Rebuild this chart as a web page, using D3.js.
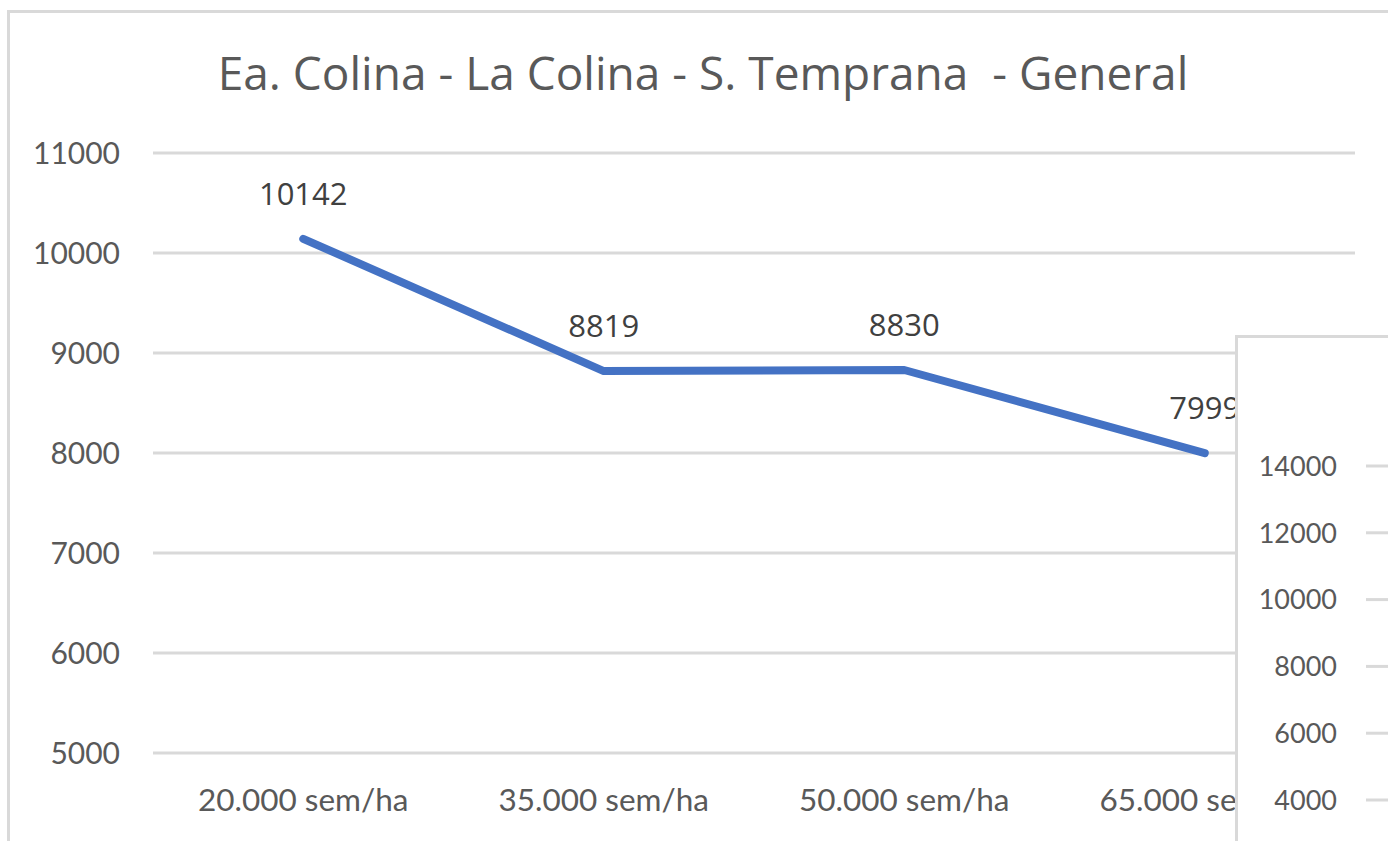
<!DOCTYPE html>
<html>
<head>
<meta charset="utf-8">
<script src="https://cdn.jsdelivr.net/npm/d3@7"></script>
<style>
  body { margin: 0; background: #fff; }
  svg { display: block; }
</style>
</head>
<body>
<div id="chart"></div>
<script>
// data
var categories = ["20.000 sem/ha", "35.000 sem/ha", "50.000 sem/ha", "65.000 sem/ha"];
var values = [10142, 8819, 8830, 7999];
var yTicks = [5000, 6000, 7000, 8000, 9000, 10000, 11000];
var panelTicks = [4000, 6000, 8000, 10000, 12000, 14000];
var title = "Ea. Colina - La Colina - S. Temprana\u00a0 - General";

var W = 1388, H = 841;

var svg = d3.select("#chart").append("svg")
			.attr("width", W)
			.attr("height", H);

// the second chart sits on top of this one, so cut the first one off at its edge
svg.append("defs").append("clipPath")
	.attr("id", "main-clip")
	.append("rect")
	.attr("x", 0)
	.attr("y", 0)
	.attr("width", 1236)
	.attr("height", H);

// outer chart frame
svg.append("rect")
	.attr("x", 8.5)
	.attr("y", 11.5)
	.attr("width", W + 20)
	.attr("height", H + 20)
	.attr("fill", "#fff")
	.attr("stroke", "#d9d9d9")
	.attr("stroke-width", 3);

svg.append("text")
	.attr("x", 703)
	.attr("y", 90)
	.attr("text-anchor", "middle")
	.attr("font-family", "'Open Sans', sans-serif")
	.attr("font-size", 46)
	.attr("fill", "#595959")
	.text(title);

var x = d3.scaleBand()
		.domain(categories)
		.range([153, 1355]);

var y = d3.scaleLinear()
		.domain([5000, 11000])
		.range([753, 153]);

// grid
svg.append("g")
	.selectAll("line")
	.data(yTicks)
	.join("line")
	.attr("x1", 153)
	.attr("x2", 1355)
	.attr("y1", function(d){ return y(d); })
	.attr("y2", function(d){ return y(d); })
	.attr("stroke", "#d9d9d9")
	.attr("stroke-width", 3);

// y labels
svg.append("g")
	.selectAll("text")
	.data(yTicks)
	.join("text")
	.attr("x", 120)
	.attr("y", function(d){ return y(d); })
	.attr("dy", "0.36em")
	.attr("text-anchor", "end")
	.attr("font-family", "Lato, sans-serif")
	.attr("font-size", 30)
	.attr("fill", "#595959")
	.text(function(d){ return d; });

var plot = svg.append("g")
	.attr("clip-path", "url(#main-clip)");

// x labels
plot.append("g")
	.selectAll("text")
	.data(categories)
	.join("text")
	.attr("x", function(d){ return x(d) + x.bandwidth() / 2; })
	.attr("y", 800)
	.attr("dy", "0.36em")
	.attr("text-anchor", "middle")
	.attr("font-family", "Lato, sans-serif")
	.attr("font-size", 31.5)
	.attr("fill", "#595959")
	.text(function(d){ return d; });

var pts = categories.map(function(c, i){ return [x(c) + x.bandwidth() / 2, y(values[i])]; });

plot.append("path")
	.attr("d", d3.line()(pts))
	.attr("fill", "none")
	.attr("stroke", "#4472c4")
	.attr("stroke-width", 8)
	.attr("stroke-linecap", "round")
	.attr("stroke-linejoin", "round");

// data labels
plot.append("g")
	.selectAll("text")
	.data(values)
	.join("text")
	.attr("x", function(d, i){ return pts[i][0]; })
	.attr("y", function(d, i){ return pts[i][1] - 45; })
	.attr("dy", "0.36em")
	.attr("text-anchor", "middle")
	.attr("font-family", "'Open Sans', sans-serif")
	.attr("font-size", 31)
	.attr("fill", "#404040")
	.text(function(d){ return d; });

// second chart overlapping on the right
var panel = svg.append("g");
panel.append("rect")
	.attr("x", 1236.5)
	.attr("y", 336.5)
	.attr("width", 300)
	.attr("height", 600)
	.attr("fill", "#fff")
	.attr("stroke", "#d9d9d9")
	.attr("stroke-width", 3);

var y2 = d3.scaleLinear()
		.domain([4000, 14000])
		.range([800, 466]);

panel.append("g")
	.selectAll("line")
	.data(panelTicks)
	.join("line")
	.attr("x1", 1366)
	.attr("x2", W)
	.attr("y1", function(d){ return y2(d); })
	.attr("y2", function(d){ return y2(d); })
	.attr("stroke", "#d9d9d9")
	.attr("stroke-width", 3);

panel.append("g")
	.selectAll("text")
	.data(panelTicks)
	.join("text")
	.attr("x", 1337)
	.attr("y", function(d){ return y2(d); })
	.attr("dy", "0.36em")
	.attr("text-anchor", "end")
	.attr("font-family", "Lato, sans-serif")
	.attr("font-size", 27)
	.attr("fill", "#595959")
	.text(function(d){ return d; });
</script>
</body>
</html>
